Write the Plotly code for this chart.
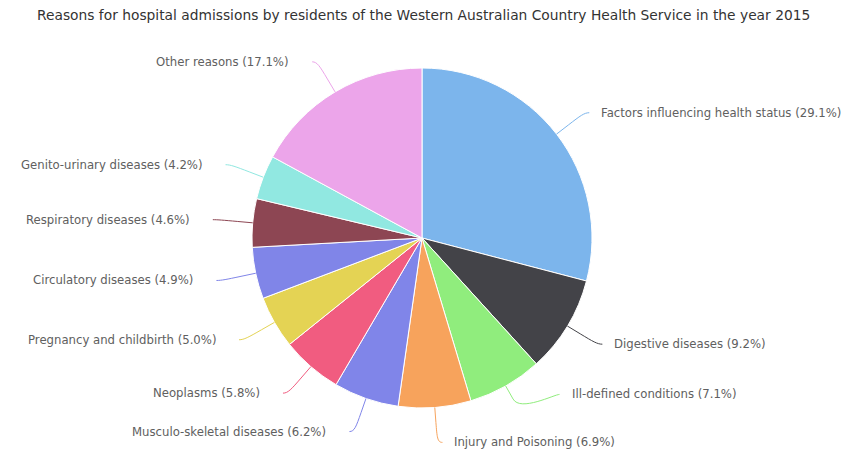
import math
import plotly.graph_objects as go

# ---- data ----
categories = [
    "Factors influencing health status",
    "Digestive diseases",
    "Ill-defined conditions",
    "Injury and Poisoning",
    "Musculo-skeletal diseases",
    "Neoplasms",
    "Pregnancy and childbirth",
    "Circulatory diseases",
    "Respiratory diseases",
    "Genito-urinary diseases",
    "Other reasons",
]
shares = [29.1, 9.2, 7.1, 6.9, 6.2, 5.8, 5.0, 4.9, 4.6, 4.2, 17.1]
colors = ["#7cb5ec", "#434348", "#90ed7d", "#f7a35c", "#8085e9", "#f15c80",
          "#e4d354", "#8085e8", "#8d4653", "#91e8e1", "#eca5ea"]
title_text = ("Reasons for hospital admissions by residents of the Western "
              "Australian Country Health Service in the year 2015")

# ---- geometry (pixels) ----
W, H = 857, 453
CX, CY, R = 422, 238, 170
RL = R + 35          # label radius
CONN_OFF = 15        # connector break outside the pie
MIN_GAP = 38         # labels closer than this collide
SLOT_SHIFT = 48      # a colliding label moves to the next free slot
FONT = "DejaVu Sans"


def px(x):
    return x / W


def py(y):
    return 1 - y / H


fig = go.Figure()
fig.add_trace(go.Pie(
    labels=categories,
    values=shares,
    sort=False,
    direction="clockwise",
    rotation=0,
    marker=dict(colors=colors, line=dict(color="#ffffff", width=1)),
    textinfo="none",
    hoverinfo="label+percent",
    showlegend=False,
    domain=dict(x=[px(CX - R), px(CX + R)], y=[py(CY + R), py(CY - R)]),
))

total = sum(shares)
cum = 0.0
items = []
for cat, v, col in zip(categories, shares, colors):
    th = 2 * math.pi * (cum + v / 2) / total
    cum += v
    side = 1 if math.sin(th) > 0 else -1
    items.append(dict(cat=cat, v=v, col=col, th=th, side=side,
                      y=CY - RL * math.cos(th), nat=CY - RL * math.cos(th)))

# collision avoidance: push colliding labels up from the bottom
for s in (1, -1):
    grp = sorted([it for it in items if it["side"] == s], key=lambda d: -d["y"])
    prev = None
    for it in grp:
        y = min(it["y"], CY + RL)
        if prev is not None and y > prev - MIN_GAP:
            y = prev - SLOT_SHIFT
        it["y"] = max(y, CY - RL)
        prev = it["y"]

shapes = []
annotations = []
for it in items:
    th, s, y = it["th"], it["side"], it["y"]
    dy = y - CY
    if abs(it["nat"] - y) < 0.5 or abs(dy) >= RL - 8:
        x = CX + RL * math.sin(th)
    else:
        x = CX + s * math.sqrt(max(RL ** 2 - dy ** 2, 0))
    p4 = (CX + R * math.sin(th), CY - R * math.cos(th))
    p2 = (CX + (R + CONN_OFF) * math.sin(th), CY - (R + CONN_OFF) * math.cos(th))
    c2 = (2 * p2[0] - p4[0], 2 * p2[1] - p4[1])
    x0 = x + 5 * s
    path = (f"M {px(x0)},{py(y)} C {px(x)},{py(y)} {px(c2[0])},{py(c2[1])} "
            f"{px(p2[0])},{py(p2[1])} L {px(p4[0])},{py(p4[1])}")
    shapes.append(dict(type="path", xref="paper", yref="paper", path=path,
                       line=dict(color=it["col"], width=1)))
    tx = x + 15 if s > 0 else x - 26
    annotations.append(dict(
        xref="paper", yref="paper", x=px(tx), y=py(y),
        xanchor="left" if s > 0 else "right", yanchor="middle",
        text=f"{it['cat']} ({it['v']:.1f}%)", showarrow=False,
        font=dict(family=FONT, size=11.7, color="#606060")))

annotations.append(dict(
    xref="paper", yref="paper", x=px(423), y=py(15),
    xanchor="center", yanchor="middle", text=title_text, showarrow=False,
    font=dict(family=FONT, size=13.8, color="#333333")))

fig.update_layout(
    width=W, height=H,
    margin=dict(l=0, r=0, t=0, b=0),
    paper_bgcolor="#ffffff",
    plot_bgcolor="#ffffff",
    shapes=shapes,
    annotations=annotations,
)

fig.write_html("out.html",
               config={"displayModeBar": False},
               post_script="document.body.style.margin='0px';"
                           "document.body.style.overflow='hidden';")
